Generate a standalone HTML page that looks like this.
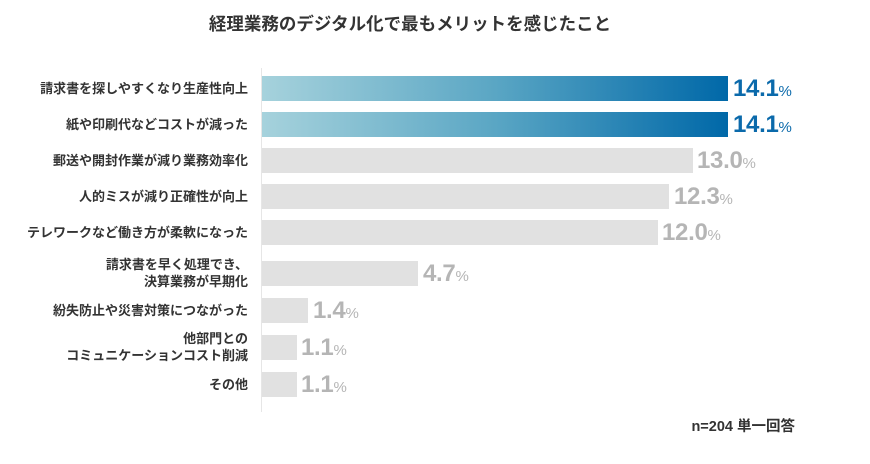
<!DOCTYPE html>
<html><head><meta charset="utf-8"><style>
body{margin:0;width:870px;height:464px;background:#fff;position:relative;overflow:hidden;font-family:"Liberation Sans","Noto Sans CJK JP",sans-serif;color:#333}
.t{position:absolute;top:11px;left:0;width:820px;text-align:center;font-size:17.5px;font-weight:bold}
.l{position:absolute;right:622px;font-size:13px;font-weight:bold;text-align:right;line-height:17px;white-space:nowrap}
.b{position:absolute;left:262px;height:25px;background:#e1e1e1}
.g{background:linear-gradient(to right,#a6d2dc,#5aa6c4 50%,#0068a8)}
.v{position:absolute;font-size:24px;font-weight:bold;color:#b5b5b5;line-height:25px;letter-spacing:-0.3px}
.v span{font-size:15px;font-weight:normal}
.blue{color:#0b6aab}
.ax{position:absolute;left:261px;top:68px;width:1px;height:344px;background:#e6e6e6}
.n{position:absolute;right:75px;top:415px;font-size:14.5px;font-weight:bold}
</style></head><body>
<div class="t">経理業務のデジタル化で最もメリットを感じたこと</div>
<div class="ax"></div>
<div class="l" style="top:80px">請求書を探しやすくなり生産性向上</div>
<div class="l" style="top:116px">紙や印刷代などコストが減った</div>
<div class="l" style="top:152px">郵送や開封作業が減り業務効率化</div>
<div class="l" style="top:188px">人的ミスが減り正確性が向上</div>
<div class="l" style="top:224px">テレワークなど働き方が柔軟になった</div>
<div class="l" style="top:256px">請求書を早く処理でき、<br>決算業務が早期化</div>
<div class="l" style="top:302px">紛失防止や災害対策につながった</div>
<div class="l" style="top:330px">他部門との<br>コミュニケーションコスト削減</div>
<div class="l" style="top:376px">その他</div>

<div class="b g" style="top:76px;width:466px"></div><div class="v blue" style="top:76px;left:733px">14.1<span>%</span></div>
<div class="b g" style="top:112px;width:466px"></div><div class="v blue" style="top:112px;left:733px">14.1<span>%</span></div>
<div class="b" style="top:148px;width:431px"></div><div class="v" style="top:148px;left:697px">13.0<span>%</span></div>
<div class="b" style="top:184px;width:407px"></div><div class="v" style="top:184px;left:674px">12.3<span>%</span></div>
<div class="b" style="top:220px;width:396px"></div><div class="v" style="top:220px;left:662px">12.0<span>%</span></div>
<div class="b" style="top:261px;width:156px"></div><div class="v" style="top:261px;left:423px">4.7<span>%</span></div>
<div class="b" style="top:298px;width:46px"></div><div class="v" style="top:298px;left:313px">1.4<span>%</span></div>
<div class="b" style="top:335px;width:35px"></div><div class="v" style="top:335px;left:301px">1.1<span>%</span></div>
<div class="b" style="top:372px;width:35px"></div><div class="v" style="top:372px;left:301px">1.1<span>%</span></div>
<div class="n">n=204 単一回答</div>
</body></html>
